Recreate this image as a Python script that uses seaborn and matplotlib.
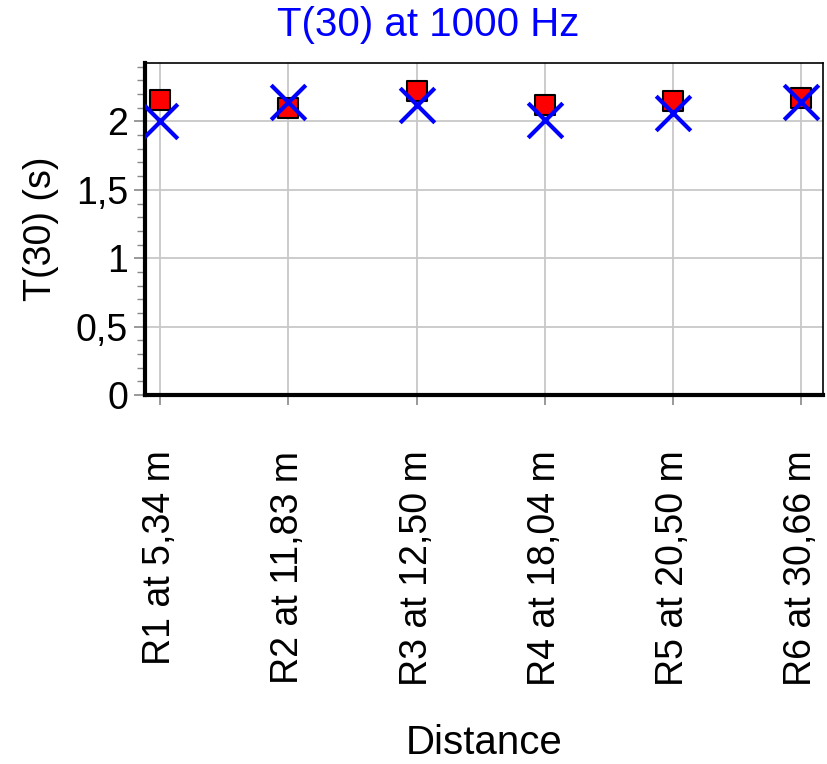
import numpy as np
import pandas as pd
import matplotlib
matplotlib.use('Agg')
import matplotlib.pyplot as plt
import seaborn as sns
from matplotlib.ticker import MultipleLocator, FuncFormatter

receivers = ['R1 at 5,34 m', 'R2 at 11,83 m', 'R3 at 12,50 m',
             'R4 at 18,04 m', 'R5 at 20,50 m', 'R6 at 30,66 m']
t30_measured = [2.16, 2.10, 2.22, 2.12, 2.15, 2.17]
t30_simulated = [2.00, 2.14, 2.12, 2.01, 2.06, 2.14]

sns.set_theme(style='white')
plt.rcParams['font.family'] = ['Liberation Sans', 'DejaVu Sans']
plt.rcParams['text.color'] = 'black'
plt.rcParams['axes.labelcolor'] = 'black'
plt.rcParams['xtick.color'] = 'black'
plt.rcParams['ytick.color'] = 'black'

df = pd.DataFrame({'Distance': receivers,
                   'measured': t30_measured,
                   'simulated': t30_simulated})

fig = plt.figure(figsize=(8.28, 7.64), dpi=100)
ax = fig.add_axes([0.175, 0.483, 0.819, 0.435])

sns.scatterplot(data=df, x='Distance', y='measured', ax=ax, marker='s',
                s=190, color='red', edgecolor='black', linewidth=1.5,
                zorder=3)
sns.scatterplot(data=df, x='Distance', y='simulated', ax=ax, marker='x',
                s=620, color='blue', linewidth=3, zorder=4)

ax.set_xlim(-0.12, 5.17)
ax.set_ylim(0, 2.43)
ax.yaxis.set_major_locator(MultipleLocator(0.5))
ax.yaxis.set_minor_locator(MultipleLocator(0.1))
ax.yaxis.set_major_formatter(FuncFormatter(
    lambda v, p: ('%g' % v).replace('.', ',')))

ax.grid(True, which='major', color='#c8c8c8', linewidth=1.3)
ax.set_axisbelow(True)

for side in ['top', 'right']:
    ax.spines[side].set_color('black')
    ax.spines[side].set_linewidth(1.2)
for side in ['left', 'bottom']:
    ax.spines[side].set_color('black')
    ax.spines[side].set_linewidth(3)

ax.tick_params(axis='y', which='major', length=8, width=1.2, color='#888888',
               labelsize=27, pad=4, left=True)
ax.tick_params(axis='y', which='minor', length=6, width=1, color='#888888',
               left=True)
ax.tick_params(axis='x', length=7, width=1.2, color='#888888', labelsize=27,
               pad=33, bottom=True)
plt.setp(ax.get_xticklabels(), rotation=90)

ax.set_ylabel('T(30) (s)', fontsize=27, labelpad=12)
ax.set_xlabel('Distance', fontsize=29, labelpad=27)
fig.text(428 / 828, 1 - 25 / 764, 'T(30) at 1000 Hz', fontsize=29,
         color='blue', ha='center', va='center')

fig.savefig('out.png', dpi=100)
